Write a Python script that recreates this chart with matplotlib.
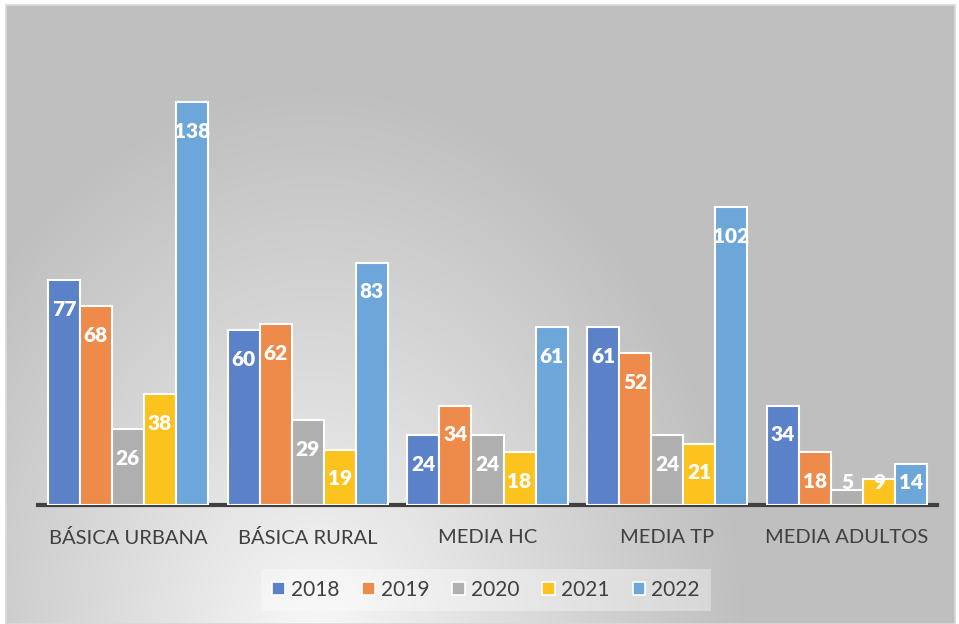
import numpy as np
import matplotlib.pyplot as plt
from matplotlib.patches import Patch, Rectangle

# Datos
categorias = ['BÁSICA URBANA', 'BÁSICA RURAL', 'MEDIA HC', 'MEDIA TP', 'MEDIA ADULTOS']
anios = ['2018', '2019', '2020', '2021', '2022']
v2018 = [77, 60, 24, 61, 34]
v2019 = [68, 62, 34, 52, 18]
v2020 = [26, 29, 24, 24, 5]
v2021 = [38, 19, 18, 21, 9]
v2022 = [138, 83, 61, 102, 14]
series = [v2018, v2019, v2020, v2021, v2022]
colores = ['#5B81C9', '#EE8A4A', '#AFAFAF', '#FCC31E', '#6DA6D8']

plt.rcParams['font.family'] = ['Lato', 'DejaVu Sans']

W, H = 959, 624
fig = plt.figure(figsize=(W / 100, H / 100), dpi=100)
fig.patch.set_facecolor('white')

# Fondo con degradado radial
bg = fig.add_axes([6 / W, 0, 949 / W, 619 / H])
yy, xx = np.mgrid[0:619, 0:949]
cx, cy = 310, 640
r = np.sqrt(((xx - cx) / 430.0) ** 2 + ((yy - cy) / 560.0) ** 2)
r = np.clip(r, 0, 1) ** 0.9
blanco = np.array([0.98, 0.98, 0.98])
gris = np.array([0.75, 0.75, 0.75])
img = blanco[None, None, :] + (gris - blanco)[None, None, :] * r[..., None]
bg.imshow(img, aspect='auto', interpolation='bilinear')
bg.set_axis_off()
fig.patches.append(Rectangle((6 / W, 0), 949 / W, 619 / H, transform=fig.transFigure,
                             fill=False, edgecolor='#D9D9D9', linewidth=1.2))

ax = fig.add_axes([38 / W, 119 / H, 899 / W, 475 / H])
ax.patch.set_alpha(0)
ax.set_ylim(0, 162.7)
ax.set_xlim(-0.5, 4.5)

x = np.arange(len(categorias))
ancho = 0.178
for i, (vals, col) in enumerate(zip(series, colores)):
    pos = x + (i - 2) * ancho
    ax.bar(pos, vals, width=ancho, color=col, edgecolor='white', linewidth=1.5, zorder=3)
    for px, v in zip(pos, vals):
        ax.text(px, max(v - 10, 7.6), str(v), ha='center', va='center',
                color='white', fontsize=15, fontweight='heavy', zorder=4)

for s in ['top', 'right', 'left']:
    ax.spines[s].set_visible(False)
ax.spines['bottom'].set_color('#404040')
ax.spines['bottom'].set_linewidth(3)
ax.set_yticks([])
ax.set_xticks(x)
ax.set_xticklabels(categorias, fontsize=14.5, color='#404040')
ax.tick_params(axis='x', length=0, pad=17)

handles = [Patch(facecolor=c, edgecolor='white', linewidth=1.2, label=a)
           for c, a in zip(colores, anios)]
leg = fig.legend(handles=handles, loc='center', bbox_to_anchor=(486 / W, (H - 590) / H),
                 ncol=5, fontsize=15, frameon=True, fancybox=False,
                 handlelength=0.6, handleheight=0.6, handletextpad=0.3,
                 columnspacing=1.1, borderpad=0.55)
leg.get_frame().set_facecolor('white')
leg.get_frame().set_alpha(0.35)
leg.get_frame().set_edgecolor('none')
for t in leg.get_texts():
    t.set_color('#404040')

fig.savefig('out.png', dpi=100)
